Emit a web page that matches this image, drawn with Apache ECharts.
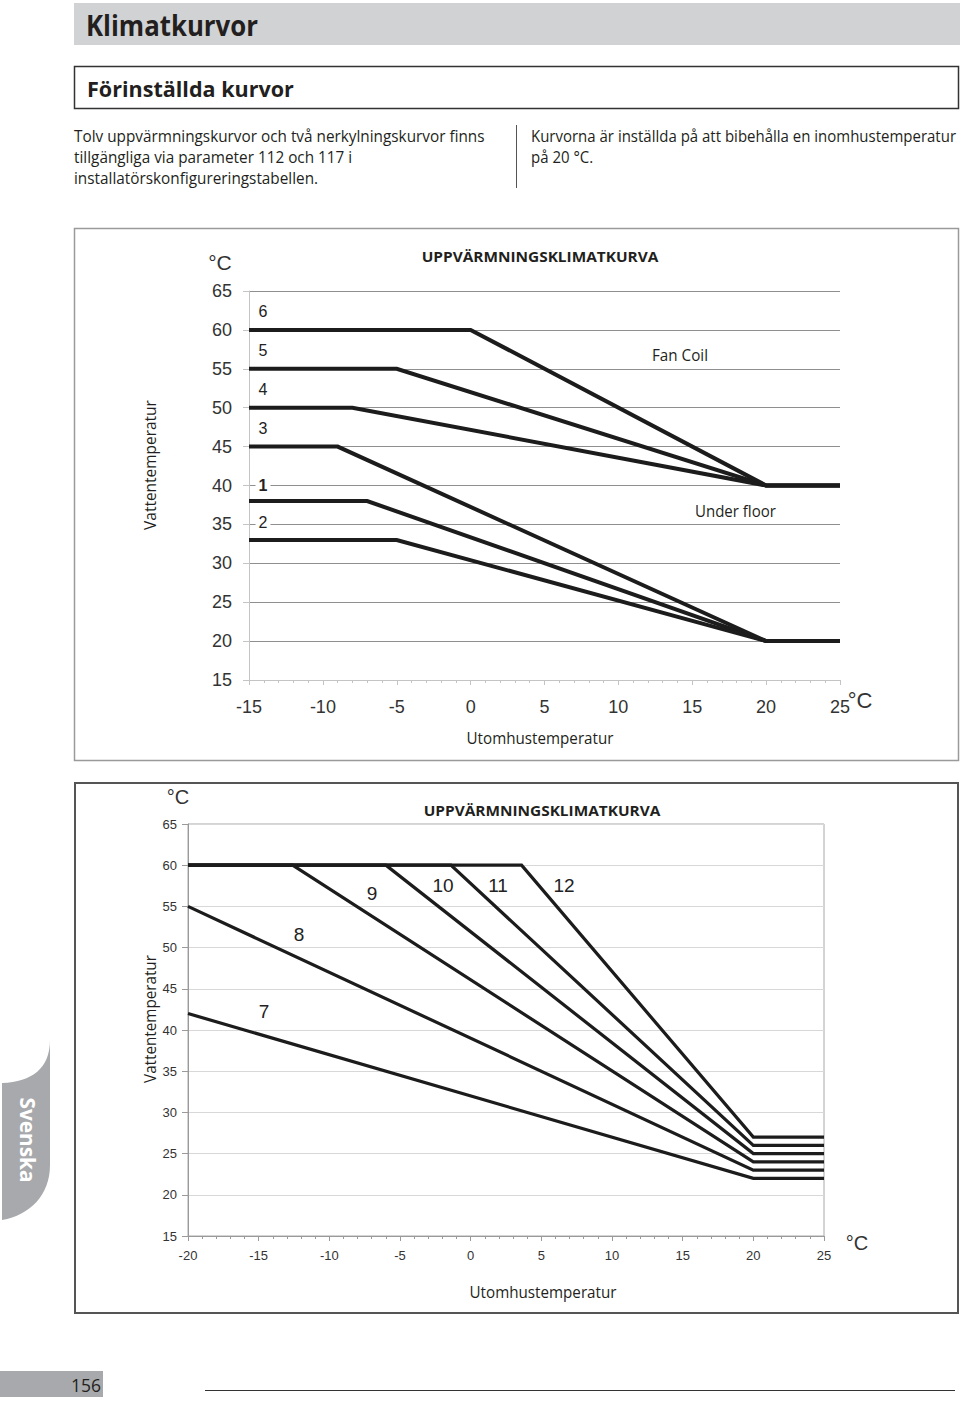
<!DOCTYPE html>
<html><head><meta charset="utf-8">
<script src="https://cdn.jsdelivr.net/npm/echarts@6/dist/echarts.min.js"></script>
<style>html,body{margin:0;padding:0;background:#fff}#c{width:960px;height:1405px}</style>
</head><body><div id="c"></div>
<script>
// ---------- DATA ----------
// Chart 1 (curves 1-6): [outdoor °C, water °C]
const curve1 = [[-15,38],[-7,38],[20,20],[25,20]];
const curve2 = [[-15,33],[-5,33],[20,20],[25,20]];
const curve3 = [[-15,45],[-9,45],[20,20],[25,20]];
const curve4 = [[-15,50],[-8,50],[20,40],[25,40]];
const curve5 = [[-15,55],[-5,55],[20,40],[25,40]];
const curve6 = [[-15,60],[0,60],[20,40],[25,40]];
// Chart 2 (curves 7-12)
const curve7  = [[-20,42],[20,22],[25,22]];
const curve8  = [[-20,55],[20,23],[25,23]];
const curve9  = [[-20,60],[-12.6,60],[20,24],[25,24]];
const curve10 = [[-20,60],[-6,60],[20,25],[25,25]];
const curve11 = [[-20,60],[-1.4,60],[20,26],[25,26]];
const curve12 = [[-20,60],[3.6,60],[20,27],[25,27]];
const chart1Curves = [curve1, curve2, curve3, curve4, curve5, curve6];
const chart2Curves = [curve7, curve8, curve9, curve10, curve11, curve12];
const chart1Names = ['1','2','3','4','5','6'];
const chart2Names = ['7','8','9','10','11','12'];
// axis ranges / tick steps
const x1Range = [-15, 25];
const x2Range = [-20, 25];
const yRange = [15, 65];
const tickStep = 5;
// texts
const pageTitle = 'Klimatkurvor';
const sectionTitle = 'Förinställda kurvor';
const leftPara = ['Tolv uppvärmningskurvor och två nerkylningskurvor finns','tillgängliga via parameter 112 och 117 i','installatörskonfigureringstabellen.'];
const rightPara = ['Kurvorna är inställda på att bibehålla en inomhustemperatur','på 20 °C.'];
const chartTitle = 'UPPVÄRMNINGSKLIMATKURVA';
const xName = 'Utomhustemperatur';
const yName = 'Vattentemperatur';
const unit = '°C';
const fanCoil = 'Fan Coil';
const underFloor = 'Under floor';
const tabText = 'Svenska';
const pageNo = '156';

// ---------- RENDER ----------
const SANS = "'Open Sans', 'Noto Sans', sans-serif";
const ARIAL = "'Liberation Sans', Arial, sans-serif";
const INK = '#231f20';
const mctx = document.createElement('canvas').getContext('2d');
function measure(text, size, weight, family){
  mctx.font = weight + ' ' + size + 'px ' + family;
  return mctx.measureText(text).width;
}
function T(text, x, y, o){
  o = o || {};
  const size = o.size || 16, weight = o.weight || 'normal', family = o.family || SANS;
  let sx = 1;
  if (o.w) sx = o.w / measure(text, size, weight, family);
  if (o.sx) sx = o.sx;
  const st = {text, fontSize:size, fontWeight:weight, fontFamily:family, fill:o.fill||INK,
    textAlign:o.align||'left', align:o.align||'left', verticalAlign:'middle', textVerticalAlign:'middle'};
  if (o.bg){ st.backgroundColor = o.bg; st.padding = o.pad || [0,3]; }
  return {type:'text', x, y, rotation:o.rot||0, scaleX:sx, z:100, style:st};
}
function scaleFor(text, size, weight, family, w){ return w / measure(text, size, weight, family); }
function bez(p0,p1,p2,p3,n){
  const pts=[];
  for(let i=0;i<=n;i++){const t=i/n,u=1-t;
    pts.push([u*u*u*p0[0]+3*u*u*t*p1[0]+3*u*t*t*p2[0]+t*t*t*p3[0], u*u*u*p0[1]+3*u*u*t*p1[1]+3*u*t*t*p2[1]+t*t*t*p3[1]]);}
  return pts;
}

const g = [];
// header
g.push({type:'rect', shape:{x:74,y:3,width:886,height:42}, style:{fill:'#d1d2d4'}, z:1});
g.push(T(pageTitle, 86, 25, {size:28, weight:'bold', w:172}));
g.push({type:'rect', shape:{x:74.5,y:66.5,width:884,height:42}, style:{fill:'none', stroke:'#333', lineWidth:1.5}, z:1});
g.push(T(sectionTitle, 87, 88, {size:22, weight:'bold', w:207}));
// paragraphs
const pSx = scaleFor(leftPara[0], 16, 'normal', SANS, 411);
const rSx = scaleFor(rightPara[0], 16, 'normal', SANS, 425);
leftPara.forEach((l,i)=>g.push(T(l, 74, 136 + i*21, {size:16, sx:pSx})));
rightPara.forEach((l,i)=>g.push(T(l, 531, 136 + i*21, {size:16, sx:rSx})));
g.push({type:'line', shape:{x1:516.5,y1:125,x2:516.5,y2:188}, style:{stroke:'#555', lineWidth:1}});
// chart boxes
g.push({type:'rect', shape:{x:74.5,y:228.5,width:884,height:532}, style:{fill:'none', stroke:'#9a9a9a', lineWidth:1.5}, z:1});
g.push({type:'rect', shape:{x:75,y:783,width:883,height:530}, style:{fill:'none', stroke:'#555', lineWidth:2}, z:1});
// chart 1 texts
g.push(T(unit, 220, 262, {size:21, family:ARIAL, align:'center', fill:'#333'}));
g.push(T(chartTitle, 540, 256, {size:15, weight:'bold', w:237, align:'center'}));
g.push(T(yName, 150, 465, {size:16, w:130, align:'center', rot:Math.PI/2}));
g.push(T(xName, 540, 738, {size:16, w:147, align:'center'}));
g.push(T(unit, 860, 700, {size:22, family:ARIAL, align:'center', fill:'#333'}));
g.push(T(fanCoil, 652, 355, {size:16, w:56}));
g.push(T(underFloor, 695, 511, {size:16, w:81}));
const lab1Y = {'1':485,'2':522,'3':428,'4':389,'5':350,'6':311};
chart1Names.forEach(n=>{
  const bg = (n==='1'||n==='2') ? '#fff' : null;
  g.push(T(n, 263, lab1Y[n], {size:16, family:ARIAL, align:'center', fill:'#222', bg, weight:(n==='1')?'bold':'normal'}));
});
// chart 2 texts
g.push(T(unit, 178, 797, {size:20, family:ARIAL, align:'center', fill:'#333'}));
g.push(T(chartTitle, 542, 810, {size:15, weight:'bold', w:237, align:'center'}));
g.push(T(yName, 150, 1019, {size:16, w:128, align:'center', rot:Math.PI/2}));
g.push(T(xName, 543, 1292, {size:17, w:147, align:'center'}));
g.push(T(unit, 857, 1243, {size:20, family:ARIAL, align:'center', fill:'#333'}));
const lab2Pos = {'7':[264,1011],'8':[299,934],'9':[372,893],'10':[443,885],'11':[498,885],'12':[564,885]};
chart2Names.forEach(n=>g.push(T(n, lab2Pos[n][0], lab2Pos[n][1], {size:19, family:ARIAL, align:'center', fill:'#222'})));
// language tab
const tabPts = [].concat(bez([50,1040],[50,1068],[32,1082],[2,1083],16), [[2,1220]], bez([2,1220],[30,1215],[50,1195],[50,1165],16));
g.push({type:'polygon', shape:{points:tabPts}, style:{fill:'#a7a9ac'}, z:1});
g.push(T(tabText, 29, 1140, {size:22, weight:'bold', w:85, align:'center', rot:-Math.PI/2, fill:'#fff'}));
// footer
g.push({type:'rect', shape:{x:0,y:1371,width:103,height:26}, style:{fill:'#a7a9ac'}, z:1});
g.push(T(pageNo, 101, 1385, {size:18, w:30, align:'right'}));
g.push({type:'line', shape:{x1:205,y1:1390.5,x2:955,y2:1390.5}, style:{stroke:'#333', lineWidth:1}});

function xAx(gi, range, o){
  return {gridIndex:gi, type:'value', min:range[0], max:range[1], interval:tickStep,
    axisLine:{show:true, onZero:false, lineStyle:{color:o.axis, width:1}},
    axisTick:{show:true, length:5, lineStyle:{color:o.axis}},
    minorTick:{show:true, splitNumber:5, length:3, lineStyle:{color:o.axis}},
    axisLabel:{fontSize:o.fs, fontFamily:ARIAL, color:'#333', margin:o.m},
    splitLine:{show:false}};
}
function yAx(gi, o){
  return {gridIndex:gi, type:'value', min:yRange[0], max:yRange[1], interval:tickStep,
    axisLine:{show:true, onZero:false, lineStyle:{color:o.axis, width:1}},
    axisTick:{show:true, length:6, lineStyle:{color:o.axis}},
    axisLabel:{fontSize:o.fs, fontFamily:ARIAL, color:'#333', margin:o.m},
    splitLine:{show:true, lineStyle:{color:o.split, width:o.sw}}};
}
const series = [];
chart1Curves.forEach((c,i)=>series.push({type:'line', name:chart1Names[i], xAxisIndex:0, yAxisIndex:0, data:c,
  symbol:'none', clip:false, lineStyle:{color:'#1c1c1c', width:4, join:'miter'}, z:5}));
chart2Curves.forEach((c,i)=>series.push({type:'line', name:chart2Names[i], xAxisIndex:1, yAxisIndex:1, data:c,
  symbol:'none', clip:false, lineStyle:{color:'#1c1c1c', width:3.2, join:'miter'}, z:5}));

const chart = echarts.init(document.getElementById('c'), null, {renderer:'svg', width:960, height:1405});
chart.setOption({
  animation:false,
  backgroundColor:'#fff',
  grid:[
    {left:249, top:291, width:591, height:389, show:false},
    {left:188, top:824, width:636, height:412, show:true, borderColor:'#a8a8a8', borderWidth:1}
  ],
  xAxis:[xAx(0, x1Range, {axis:'#c4c4c4', fs:18, m:18}), xAx(1, x2Range, {axis:'#9a9a9a', fs:13, m:13})],
  yAxis:[yAx(0, {axis:'#c4c4c4', fs:18, m:17, split:'#8f8f8f', sw:1.2}), yAx(1, {axis:'#9a9a9a', fs:13, m:11, split:'#d8d8d8', sw:1})],
  series,
  graphic:{elements:g}
});
</script></body></html>
